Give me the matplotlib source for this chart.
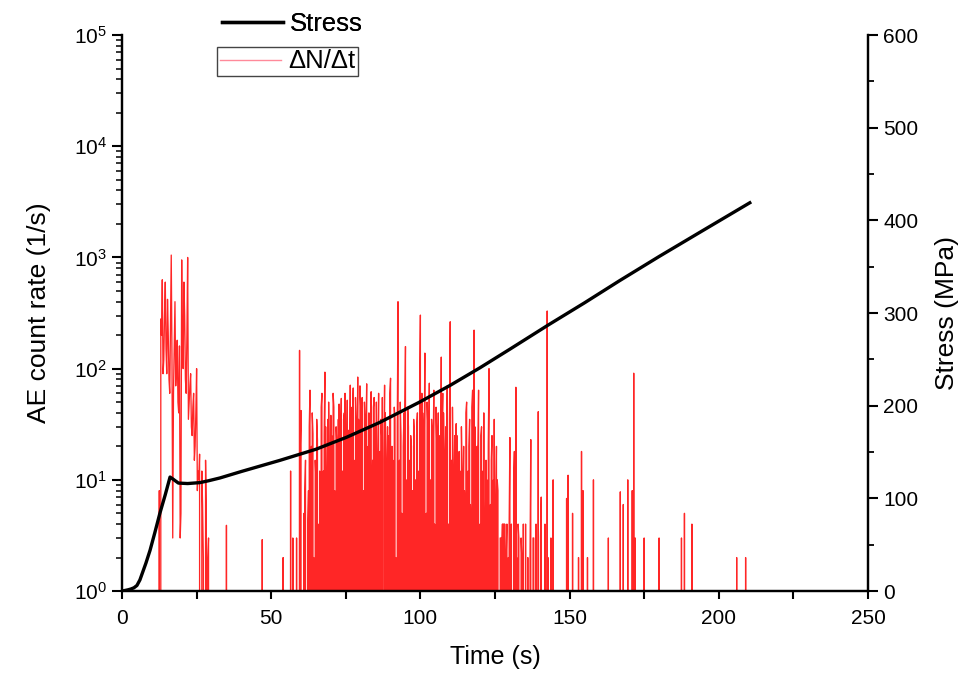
import numpy as np
import matplotlib
matplotlib.use('Agg')
import matplotlib.pyplot as plt
from matplotlib.lines import Line2D
from matplotlib.ticker import LogLocator, MultipleLocator, NullFormatter

plt.rcParams['font.family'] = ['Liberation Sans', 'DejaVu Sans']
plt.rcParams['mathtext.fontset'] = 'custom'
plt.rcParams['mathtext.rm'] = 'Liberation Sans'
plt.rcParams['mathtext.it'] = 'Liberation Sans:italic'

# ---- data ----
stress_time = [0, 1, 2, 3, 4, 5, 6, 7, 8, 9.4, 11, 12.7, 14.5, 16.1, 17, 18.9, 22,
               26.1, 29, 32.8, 40, 52.9, 65, 75.3, 86.4, 99.8, 110, 120, 130,
               142.8, 155, 166.8, 180, 193.6, 202, 210.4]
stress_mpa = [0, 0.6, 1.3, 2.2, 3.5, 6, 12, 21, 30, 44, 63, 84, 104, 123, 121, 116.5, 116,
              117, 119, 122, 129, 141, 153, 166, 182, 204, 222, 241, 261,
              287, 311, 335, 361, 387, 403, 419]

# first AE burst: two interleaved 0.5 s series (starts 12.5 s and 12.75 s)
burst1_start = 12.5
burst1_rate = [8, 280, 630, 120, 600, 90, 200, 60, 1050, 3,
               150, 70, 180, 40, 3, 950, 100, 300, 60, 1000,
               50, 90, 25, 60, 20, 100, 12, 17, 0, 6,
               0, 15, 0, 3, 0]
burst1b_start = 12.75
burst1b_rate = [0, 200, 90, 300, 150, 420, 80, 250, 120, 60,
                400, 100, 50, 160, 5, 130, 600, 80, 200, 35,
                70, 30, 45, 15, 40, 8, 10, 0, 12, 2,
                0, 5, 2, 0]

# second AE burst: two interleaved 0.5 s series (starts 53 s and 53.25 s)
burst2_start = 53.0
burst2_rate = [0, 0, 2, 0, 0, 0, 0, 12, 0, 0,
               0, 3, 0, 146, 42, 0, 5, 15, 0, 8,
               64, 20, 26, 0, 10, 23, 4, 0, 60, 12,
               93, 0, 35, 8, 38, 15, 45, 3, 20, 35,
               6, 54, 12, 40, 0, 52, 18, 71, 25, 67,
               10, 30, 84, 22, 45, 55, 8, 30, 73, 20,
               5, 62, 15, 55, 30, 3, 60, 18, 25, 0,
               71, 12, 30, 5, 82, 20, 10, 35, 0, 400,
               15, 25, 3, 40, 158, 10, 30, 0, 20, 8,
               25, 2, 40, 12, 303, 60, 20, 138, 5, 30,
               74, 10, 25, 64, 3, 20, 40, 8, 127, 60,
               12, 30, 70, 4, 264, 15, 8, 25, 32, 3,
               18, 0, 10, 20, 5, 50, 12, 35, 3, 64,
               222, 8, 20, 64, 4, 30, 12, 0, 15, 3,
               100, 6, 25, 10, 0, 20, 8, 0, 3, 4,
               4, 0, 4, 2, 24, 4, 0, 18, 68, 0,
               3, 0, 2, 4, 0, 0, 2, 0, 23, 0,
               3, 0, 0, 41, 0, 7, 0, 0, 0, 330,
               0, 0, 0, 10, 0]
burst2b_start = 53.25
burst2b_rate = [0, 0, 0, 0, 0, 0, 0, 0, 3, 0,
                0, 0, 0, 20, 0, 0, 8, 0, 4, 30,
                5, 40, 2, 15, 35, 0, 12, 45, 0, 25,
                30, 10, 50, 2, 25, 60, 8, 30, 4, 48,
                25, 5, 35, 60, 10, 28, 3, 45, 40, 15,
                55, 8, 35, 70, 20, 4, 50, 25, 10, 40,
                30, 6, 45, 20, 50, 12, 3, 35, 55, 15,
                40, 4, 25, 60, 8, 15, 45, 2, 30, 10,
                50, 5, 20, 30, 6, 45, 15, 25, 4, 35,
                10, 30, 5, 60, 8, 40, 15, 3, 50, 20,
                6, 35, 15, 4, 45, 12, 25, 3, 30, 40,
                8, 20, 3, 35, 10, 45, 5, 15, 25, 2,
                12, 30, 4, 8, 40, 2, 20, 6, 45, 10,
                30, 5, 15, 2, 25, 8, 40, 3, 10, 20,
                4, 15, 2, 35, 6, 10, 0, 3, 2, 4,
                4, 2, 0, 4, 3, 0, 10, 0, 2, 4,
                0, 3, 0, 0, 4, 0, 0, 2, 0, 3,
                0, 4, 0, 0, 3, 0, 0, 4, 0, 2,
                0, 3, 0, 0, 0]

# isolated AE events
event_time = [35, 47, 149, 149.5, 151, 153, 154, 154.5, 156, 158, 163, 167, 168,
              169.5, 171, 171.5, 172, 175, 180, 187.5, 188.5, 191, 206, 209]
event_rate = [3.9, 2.9, 6.8, 11, 5, 2, 18, 8, 2, 10, 3, 7.8, 6,
              10, 8, 91, 3, 3, 3, 3, 5, 4, 2, 2]

# ---- assemble the rate trace ----
pts = [(0.0, 0.0), (12.25, 0.0), (29.75, 0.0), (212.0, 0.0)]
half = 0.125
# first burst: consecutive bins joined (zig-zag trace)
for start, vals in ((burst1_start, burst1_rate), (burst1b_start, burst1b_rate)):
    for k, v in enumerate(vals):
        pts.append((start + 0.5 * k, v))
# second burst: first series followed by an empty bin, second series joined
for k, v in enumerate(burst2_rate):
    t = burst2_start + 0.5 * k
    pts.append((t, v))
    pts.append((t + half, 0.0))
for k, v in enumerate(burst2b_rate):
    pts.append((burst2b_start + 0.5 * k, v))
for t, v in zip(event_time, event_rate):
    pts += [(t - half, 0.0), (t, v), (t + half, 0.0)]
pts.sort(key=lambda p: p[0])
time = np.array([p[0] for p in pts])
rate = np.array([p[1] for p in pts])

# ---- figure ----
fig = plt.figure(figsize=(9.63, 6.74), dpi=100)
ax = fig.add_axes([0.1267, 0.1231, 0.7746, 0.8249])
ax.set_yscale('log', nonpositive='clip')
ax.plot(time, rate, color='red', lw=0.95, alpha=0.85)
ax.set_xlim(0, 250)
ax.set_ylim(1, 1e5)

ax2 = ax.twinx()
ax2.plot(stress_time, stress_mpa, color='black', lw=2.4, solid_joinstyle='round')
ax2.set_ylim(0, 600)

for a in (ax, ax2):
    a.spines['top'].set_visible(False)
    for s in a.spines.values():
        s.set_linewidth(1.6)

ax.xaxis.set_major_locator(MultipleLocator(50))
ax.xaxis.set_minor_locator(MultipleLocator(25))
ax.yaxis.set_major_locator(LogLocator(base=10, numticks=20))
ax.yaxis.set_minor_locator(LogLocator(base=10, subs=np.arange(2, 10), numticks=100))
ax.yaxis.set_minor_formatter(NullFormatter())
ax2.yaxis.set_major_locator(MultipleLocator(100))
ax2.yaxis.set_minor_locator(MultipleLocator(50))

ax.tick_params(axis='x', which='both', direction='out', length=6, width=1.5,
               labelsize=15, pad=7)
ax.tick_params(axis='y', which='major', direction='out', length=7, width=1.5,
               labelsize=15, pad=4)
ax.tick_params(axis='y', which='minor', direction='out', length=4, width=1.1)
ax2.tick_params(axis='y', which='major', direction='out', length=7, width=1.5,
                labelsize=15, pad=4)
ax2.tick_params(axis='y', which='minor', direction='out', length=4.5, width=1.3)

ax.set_xlabel('Time (s)', fontsize=18, labelpad=12)
ax.set_ylabel('AE count rate (1/s)', fontsize=19, labelpad=16)
ax2.set_ylabel('Stress (MPa)', fontsize=19, labelpad=12)

# legends
h_stress = Line2D([], [], color='black', lw=2.4)
h_rate = Line2D([], [], color='#ff8a9a', lw=1.0)
leg1 = fig.legend([h_stress], ['Stress'], loc='center left',
                  bbox_to_anchor=(0.2275, 1 - 24 / 674), frameon=False,
                  fontsize=18.5, handlelength=2.4, handletextpad=0.25,
                  borderpad=0.1, borderaxespad=0)
leg2 = fig.legend([h_rate], ['\u0394N/\u0394t'], loc='center left',
                  bbox_to_anchor=(0.2255, 1 - 61.5 / 674), frameon=True,
                  fancybox=False, edgecolor='#444444', framealpha=1,
                  fontsize=18.5, handlelength=2.4, handletextpad=0.25,
                  borderpad=0.1, borderaxespad=0)
leg2.get_frame().set_linewidth(1.0)
fig.add_artist(leg1)

fig.savefig('out.png', dpi=100)
